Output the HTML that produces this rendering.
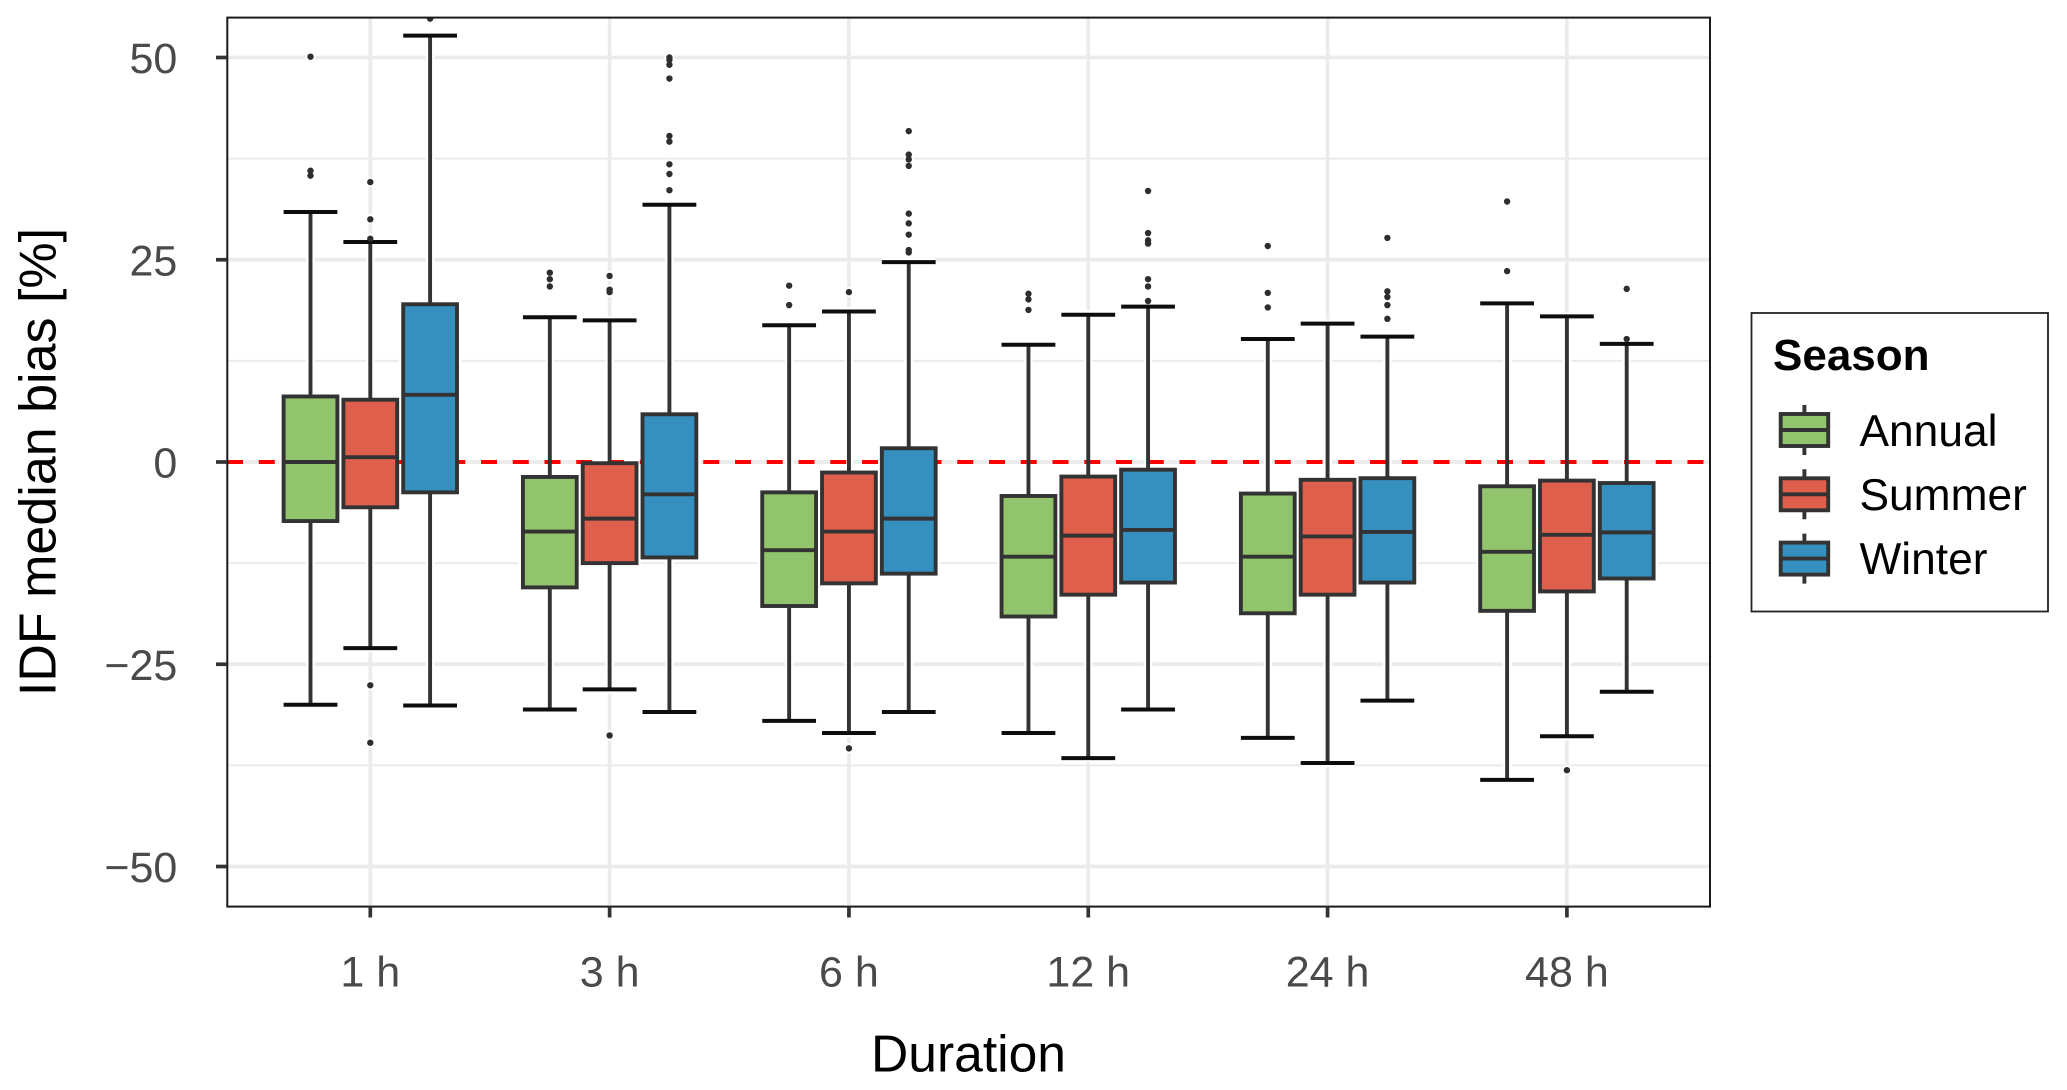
<!DOCTYPE html>
<html lang="en">
<head>
<meta charset="utf-8">
<title>IDF median bias by duration and season</title>
<style>
html,body{margin:0;padding:0;background:#fff;}
body{width:2067px;height:1090px;overflow:hidden;}
svg{display:block;font-family:"Liberation Sans",Arial,sans-serif;}
</style>
</head>
<body>
<svg id="chart" xmlns="http://www.w3.org/2000/svg" width="2067" height="1090" viewBox="0 0 2067 1090">
  <defs>
    <clipPath id="panel-clip"><rect x="227" y="17.5" width="1483" height="889"/></clipPath>
  </defs>
  <rect x="0" y="0" width="2067" height="1090" fill="#ffffff"/>
  <g id="grid" clip-path="url(#panel-clip)"></g>
  <g id="halos" clip-path="url(#panel-clip)"></g>
  <g id="ref" clip-path="url(#panel-clip)"></g>
  <g id="marks" clip-path="url(#panel-clip)"></g>
  <rect x="227.3" y="17.6" width="1482.7" height="889" fill="none" stroke="#1a1a1a" stroke-width="2"/>
  <g id="axes"></g>
  <text transform="translate(55.5,462) rotate(-90)" text-anchor="middle" font-size="52" fill="#000000">IDF median bias [%]</text>
  <text x="968.5" y="1071.5" text-anchor="middle" font-size="51.6" fill="#000000">Duration</text>
  <g>
    <rect x="1751.5" y="313" width="296.5" height="298.5" fill="#ffffff" stroke="#222222" stroke-width="1.8"/>
    <text x="1773" y="370" font-size="44" font-weight="bold" fill="#000000">Season</text>
    <g id="legend-keys"></g>
    <text x="1859.5" y="446" font-size="44.3" fill="#000000">Annual</text>
    <text x="1859.5" y="510" font-size="44.3" fill="#000000">Summer</text>
    <text x="1859.5" y="574" font-size="44.3" fill="#000000">Winter</text>
  </g>
</svg>
<script>
// ---- categories and tick labels ----
const durations = ['1 h', '3 h', '6 h', '12 h', '24 h', '48 h'];
const seasons = ['Annual', 'Summer', 'Winter'];
const yMajorTicks = [-50, -25, 0, 25, 50];
const yMinorTicks = [-37.5, -12.5, 12.5, 37.5];
const yTickLabels = ['\u221250', '\u221225', '0', '25', '50'];
const referenceValue = [0];

// ---- Annual ----
const annualLower  = [-30.0, -30.6, -32.0, -33.5, -34.1, -39.3];
const annualQ1     = [-7.3, -15.5, -17.8, -19.1, -18.7, -18.4];
const annualMedian = [0.0, -8.6, -10.9, -11.7, -11.7, -11.1];
const annualQ3     = [8.1, -1.85, -3.75, -4.2, -3.9, -3.0];
const annualUpper  = [30.9, 17.9, 16.9, 14.5, 15.2, 19.6];
const annualOutliers = [
  [50.1, 36.0, 35.4],
  [23.4, 22.6, 21.7],
  [21.8, 19.4],
  [20.8, 20.1, 18.8],
  [26.7, 20.9, 19.1],
  [32.2, 23.6]
];

// ---- Summer ----
const summerLower  = [-23.0, -28.1, -33.5, -36.6, -37.2, -33.9];
const summerQ1     = [-5.6, -12.5, -15.0, -16.4, -16.4, -16.0];
const summerMedian = [0.6, -7.0, -8.6, -9.1, -9.2, -9.0];
const summerQ3     = [7.7, -0.15, -1.3, -1.8, -2.2, -2.3];
const summerUpper  = [27.2, 17.5, 18.6, 18.2, 17.1, 18.0];
const summerOutliers = [
  [34.6, 30.0, 27.6, -27.6, -34.7],
  [23.0, 21.3, 21.0, -33.8],
  [21.0, -35.4],
  [],
  [],
  [-38.1]
];

// ---- Winter ----
const winterLower  = [-30.1, -30.9, -30.9, -30.6, -29.5, -28.4];
const winterQ1     = [-3.75, -11.8, -13.8, -14.9, -14.9, -14.4];
const winterMedian = [8.3, -4.0, -7.0, -8.4, -8.65, -8.7];
const winterQ3     = [19.5, 5.9, 1.7, -0.95, -2.0, -2.6];
const winterUpper  = [52.7, 31.8, 24.7, 19.2, 15.5, 14.6];
const winterOutliers = [
  [54.8],
  [50.0, 49.7, 49.1, 47.4, 40.3, 39.6, 36.8, 35.6, 33.6],
  [40.9, 38.0, 37.4, 36.6, 30.7, 29.5, 28.1, 26.2, 25.9],
  [33.5, 28.3, 27.4, 27.0, 22.6, 21.7, 19.9],
  [27.7, 21.1, 20.4, 19.4, 17.7],
  [21.4, 15.2]
];

const seasonStats = [
  {lower: annualLower, q1: annualQ1, median: annualMedian, q3: annualQ3, upper: annualUpper, outliers: annualOutliers},
  {lower: summerLower, q1: summerQ1, median: summerMedian, q3: summerQ3, upper: summerUpper, outliers: summerOutliers},
  {lower: winterLower, q1: winterQ1, median: winterMedian, q3: winterQ3, upper: winterUpper, outliers: winterOutliers}
];
const seasonFills = ['#91c46c', '#de5f4b', '#3590c0'];

// ---- axis functions ----
const SVGNS = 'http://www.w3.org/2000/svg';
const PANEL = {left: 227, right: 1710, top: 17.5, bottom: 906.5};
const X_BAND = 239.32;
const X_FIRST = 370.3;
const DODGE = 59.8;
const BOX_W = 53.8;
const INK = '#333333';
const CAP_INK = '#0d0d0d';
const LINE_W = 3.9;

function yScale(v) { return 462 - v * 8.09; }
function xScale(durationIndex) { return X_FIRST + durationIndex * X_BAND; }
function dodgeScale(durationIndex, seasonIndex) { return xScale(durationIndex) + (seasonIndex - 1) * DODGE; }

function make(tag, attrs, parent) {
  const node = document.createElementNS(SVGNS, tag);
  for (const k in attrs) node.setAttribute(k, attrs[k]);
  parent.appendChild(node);
  return node;
}

const gridLayer = document.getElementById('grid');
const haloLayer = document.getElementById('halos');
const refLayer = document.getElementById('ref');
const markLayer = document.getElementById('marks');
const axisLayer = document.getElementById('axes');
const legendKeys = document.getElementById('legend-keys');

// ---- grid ----
yMinorTicks.forEach(function (v) {
  const line = make('line', {x1: PANEL.left, x2: PANEL.right, y1: yScale(v), y2: yScale(v), stroke: '#ebebeb', 'stroke-width': 1.9}, gridLayer);
  
  
});
yMajorTicks.forEach(function (v) {
  const line = make('line', {x1: PANEL.left, x2: PANEL.right, y1: yScale(v), y2: yScale(v), stroke: '#ebebeb', 'stroke-width': 3.7}, gridLayer);
  
  
});
durations.forEach(function (d, i) {
  const line = make('line', {x1: xScale(i), x2: xScale(i), y1: PANEL.top, y2: PANEL.bottom, stroke: '#ebebeb', 'stroke-width': 3.7}, gridLayer);
  
  
});

// ---- reference line ----
referenceValue.forEach(function (v) {
  const line = make('line', {x1: PANEL.left, x2: PANEL.right, y1: yScale(v), y2: yScale(v), stroke: '#ff0000', 'stroke-width': 3.9, 'stroke-dasharray': '16 15.75'}, refLayer);
  
  
});

// ---- axes ----
yMajorTicks.forEach(function (v, i) {
  const tick = make('line', {x1: 216, x2: PANEL.left, y1: yScale(v), y2: yScale(v), stroke: INK, 'stroke-width': 3.7}, axisLayer);
  
  
  const label = make('text', {x: 177.3, y: yScale(v) + 15.5, 'text-anchor': 'end', 'font-size': 43, fill: '#4a4a4a'}, axisLayer);
  
  
  label.textContent = yTickLabels[i];
});
durations.forEach(function (d, i) {
  const tick = make('line', {x1: xScale(i), x2: xScale(i), y1: PANEL.bottom, y2: 917.5, stroke: INK, 'stroke-width': 3.7}, axisLayer);
  
  
  const label = make('text', {x: xScale(i), y: 986.5, 'text-anchor': 'middle', 'font-size': 43, fill: '#4a4a4a'}, axisLayer);
  
  
  label.textContent = d;
});

// ---- boxplots ----
seasonStats.forEach(function (s, si) {
  durations.forEach(function (d, di) {
    const cx = dodgeScale(di, si);
    const yLo = yScale(s.lower[di]), yQ1 = yScale(s.q1[di]), yMed = yScale(s.median[di]);
    const yQ3 = yScale(s.q3[di]), yHi = yScale(s.upper[di]);
    const left = cx - BOX_W / 2, right = cx + BOX_W / 2;

    // white halo beneath the dark strokes
    const halo = make('path', {
      d: 'M' + cx + ' ' + yHi + 'V' + yLo + 'M' + left + ' ' + yHi + 'H' + right + 'M' + left + ' ' + yLo + 'H' + right + 'M' + left + ' ' + yQ3 + 'H' + right + 'V' + yQ1 + 'H' + left + 'Z',
      fill: 'none', stroke: '#ffffff', 'stroke-width': 8.6
    }, haloLayer);
    
    

    const group = make('g', {}, markLayer);
    
    

    const whiskerUp = make('line', {x1: cx, x2: cx, y1: yHi, y2: yQ3, stroke: INK, 'stroke-width': LINE_W}, group);
    
    
    const whiskerDown = make('line', {x1: cx, x2: cx, y1: yQ1, y2: yLo, stroke: INK, 'stroke-width': LINE_W}, group);
    
    
    const capUp = make('line', {x1: left, x2: right, y1: yHi, y2: yHi, stroke: CAP_INK, 'stroke-width': 4}, group);
    
    
    const capDown = make('line', {x1: left, x2: right, y1: yLo, y2: yLo, stroke: CAP_INK, 'stroke-width': 4}, group);
    
    

    const box = make('rect', {x: left, y: yQ3, width: BOX_W, height: yQ1 - yQ3, fill: seasonFills[si], stroke: INK, 'stroke-width': LINE_W}, group);
    
    
    const median = make('line', {x1: left, x2: right, y1: yMed, y2: yMed, stroke: INK, 'stroke-width': LINE_W}, group);
    
    

    s.outliers[di].forEach(function (v) {
      const dotHalo = make('circle', {cx: cx, cy: yScale(v), r: 5.2, fill: '#ffffff'}, haloLayer);
      
      
      const dot = make('circle', {cx: cx, cy: yScale(v), r: 3.2, fill: '#2e2e2e'}, group);
      
      
    });
  });
});

// ---- legend keys ----
seasons.forEach(function (name, i) {
  const cy = 430 + i * 64.3;
  const cx = 1804.4;
  const key = make('g', {}, legendKeys);
  
  
  const stem = make('line', {x1: cx, x2: cx, y1: cy - 25, y2: cy + 25, stroke: INK, 'stroke-width': LINE_W}, key);
  
  
  const rect = make('rect', {x: 1780.7, y: cy - 16, width: 47.5, height: 32, fill: seasonFills[i], stroke: INK, 'stroke-width': LINE_W}, key);
  
  
  const mid = make('line', {x1: 1780.7, x2: 1828.2, y1: cy, y2: cy, stroke: INK, 'stroke-width': LINE_W}, key);
  
  
});
</script>
</body>
</html>
